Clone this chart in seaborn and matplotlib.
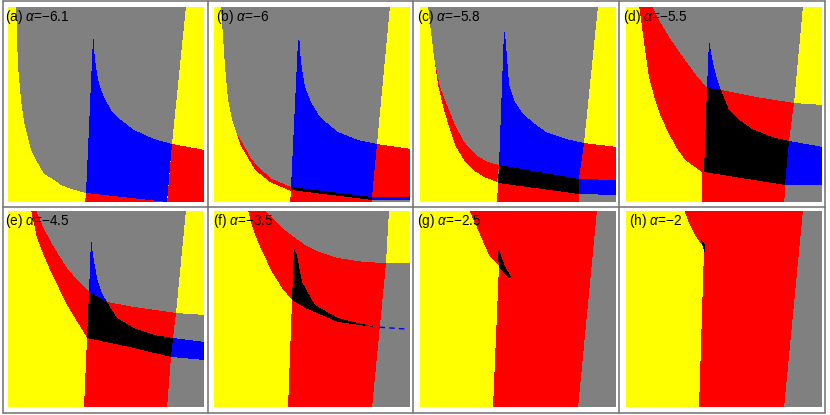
import numpy as np
import matplotlib
matplotlib.use("Agg")
import matplotlib.pyplot as plt
import seaborn as sns
from matplotlib.colors import ListedColormap
from matplotlib.path import Path
from matplotlib.lines import Line2D

# panel parameters
letters = ["a", "b", "c", "d", "e", "f", "g", "h"]
alphas = [-6.1, -6, -5.8, -5.5, -4.5, -3.5, -2.5, -2]

# region outlines in image pixels (x right, y down), painted in order over yellow
regions_a = [
    ("gray", [(8, -1), (9, 30), (10, 60), (13, 93), (16, 115), (19, 127), (23, 143), (28, 153),
              (36, 167), (46, 173), (53, 178), (63, 182), (78, 186),
              (159, 195), (164, 137), (178, -1)]),
    ("blue", [(85, 31), (78, 186), (159, 195), (164, 137), (146, 132), (126, 123), (113, 113),
              (103, 103), (96, 90), (91, 77), (88, 60), (86, 43), (86, 32)]),
    ("red", [(164, 137), (197, 143), (197, 197), (159, 197)]),
    ("red", [(78, 186), (159, 195), (159, 197), (77, 197)]),
]
regions_b = [
    ("gray", [(7, -1), (9, 30), (11, 60), (14, 93), (18, 112), (22, 125), (29, 137), (36, 150),
              (44, 160), (50, 166), (58, 172), (66, 176), (77, 180),
              (158, 190), (163, 137), (176, -1)]),
    ("red", [(22, 125), (29, 137), (36, 150), (44, 160), (58, 172), (77, 180), (77, 184),
             (56, 175), (41, 163), (27, 139)]),
    ("blue", [(84, 33), (77, 180), (158, 190), (163, 137), (144, 133), (124, 125), (113, 116),
              (104, 107), (97, 95), (91, 80), (88, 62), (86, 45), (86, 34)]),
    ("black", [(77, 180), (158, 190), (158, 193), (77, 183)]),
    ("red", [(77, 183), (158, 193), (158, 197), (76, 197)]),
    ("red", [(163, 137), (197, 142), (197, 190), (158, 190)]),
    ("blue", [(158, 190), (197, 190), (197, 192.5), (158, 192.5)]),
    ("gray", [(158, 192.5), (197, 192.5), (197, 197), (158, 197)]),
]
regions_c = [
    ("gray", [(8, -1), (11, 25), (14, 50), (18, 78), (24, 103), (29, 120), (36, 140), (44, 153),
              (53, 163), (64, 170), (77, 175), (159, 187), (164, 136), (178, -1)]),
    ("red", [(14, 50), (18, 78), (24, 103), (29, 120), (36, 140), (44, 153), (53, 163), (64, 170),
             (77, 175), (79, 158), (68, 155), (59, 150), (50, 142), (43, 133), (35, 118),
             (29, 103), (20, 80)]),
    ("blue", [(84, 23), (79, 158), (159, 172), (164, 136), (146, 132), (126, 125), (115, 117),
              (103, 107), (95, 95), (89, 77), (87, 50), (85, 26)]),
    ("black", [(79, 158), (159, 172), (159, 187), (78, 176)]),
    ("red", [(78, 176), (159, 187), (159, 197), (77, 197)]),
    ("red", [(164, 136), (197, 140), (197, 173), (159, 172)]),
    ("blue", [(159, 172), (197, 173), (197, 188), (159, 187)]),
    ("gray", [(159, 187), (197, 188), (197, 197), (159, 197)]),
]
regions_d = [
    ("red", [(13, -1), (16, 20), (19, 43), (23, 70), (29, 93), (35, 110), (43, 127), (50, 140),
             (59, 153), (76, 165), (76, 197), (158, 197), (163, 134), (168, 96), (177, -1)]),
    ("gray", [(26, -1), (34, 15), (43, 30), (59, 53), (70, 68), (81, 81), (95, 83), (130, 90),
              (168, 96), (177, -1)]),
    ("blue", [(83, 33), (81, 81), (95, 83), (91, 72), (88, 60), (85, 45)]),
    ("black", [(81, 81), (95, 83), (103, 103), (115, 114), (126, 122), (146, 130), (163, 134),
               (159, 178), (78, 165)]),
    ("gray", [(168, 96), (197, 98), (197, 197), (158, 197), (163, 134)]),
    ("blue", [(163, 134), (197, 140), (197, 178), (159, 178)]),
]
regions_e = [
    ("red", [(23, -1), (26, 13), (29, 27), (36, 45), (43, 61), (59, 94), (70, 112), (79, 127),
             (76, 197), (159, 197), (163, 146), (165, 127), (168, 102), (178, -1)]),
    ("gray", [(28, -1), (35, 16), (43, 31), (50, 43), (59, 57), (70, 70), (81, 81), (99, 91),
              (126, 96), (168, 102), (178, -1)]),
    ("blue", [(83, 27), (81, 81), (99, 91), (94, 82), (89, 67), (85, 44)]),
    ("black", [(81, 81), (99, 91), (109, 107), (126, 117), (146, 124), (165, 127), (163, 146),
               (126, 137), (79, 127)]),
    ("gray", [(168, 102), (197, 104), (197, 197), (159, 197), (163, 146), (165, 127)]),
    ("blue", [(165, 127), (197, 131), (197, 149), (163, 146)]),
]
regions_f = [
    ("red", [(34, -1), (37, 12), (41, 24), (48, 40), (58, 61), (68, 77), (78, 89), (74, 197),
             (158, 197), (172, 52), (175, -1)]),
    ("gray", [(51, -1), (60, 9), (68, 17), (80, 26), (91, 34), (105, 41), (124, 47), (150, 51),
              (172, 52), (175, -1)]),
    ("gray", [(172, 52), (197, 52), (197, 197), (158, 197)]),
    ("black", [(80, 37), (78, 89), (91, 97), (124, 111), (166, 117), (144, 112), (124, 107),
               (101, 94), (88, 71), (83, 44)]),
]
regions_g = [
    ("red", [(49, -1), (54, 10), (59, 21), (64, 33), (69, 44), (74, 50), (79, 54), (73, 197),
             (158, 197), (177, -1)]),
    ("gray", [(177, -1), (197, -1), (197, 197), (158, 197)]),
    ("black", [(79, 36), (81, 45), (85, 55), (91, 66), (89, 67), (83, 61), (79, 56), (78, 45)]),
]
regions_h = [
    ("red", [(58, -1), (63, 12), (69, 24), (73, 30), (76, 34), (78, 39), (73, 197), (158, 197),
             (177, -1)]),
    ("gray", [(177, -1), (197, -1), (197, 197), (158, 197)]),
    ("black", [(76, 29), (78.5, 33), (79.5, 41), (78, 41), (77, 35), (75, 30)]),
]
# thin blue trace in panel (f)
trace_f_x = [166, 195]
trace_f_y = [116.5, 118.5]

panels = [regions_a, regions_b, regions_c, regions_d,
          regions_e, regions_f, regions_g, regions_h]

sns.set_theme(style="white")
plt.rcParams['font.family'] = ['Liberation Sans', 'DejaVu Sans']
plt.rcParams['mathtext.fontset'] = 'custom'
plt.rcParams['mathtext.it'] = 'Liberation Sans:italic'
plt.rcParams['mathtext.rm'] = 'Liberation Sans'

names = ["yellow", "gray", "blue", "red", "black"]
code = {n: i for i, n in enumerate(names)}
cmap = ListedColormap(["#ffff00", "#808080", "#0000ff", "#ff0000", "#000000"])

N = 196
yy, xx = np.mgrid[0:N, 0:N] + 0.5
pts = np.column_stack([xx.ravel(), yy.ravel()])


def rasterize(regions):
    grid = np.zeros(N * N, dtype=int)
    for name, verts in regions:
        grid[Path(verts).contains_points(pts)] = code[name]
    return grid.reshape(N, N)


W, H = 830, 415
fig = plt.figure(figsize=(W / 100, H / 100), dpi=100)

for k, regions in enumerate(panels):
    r, c = divmod(k, 4)
    x0 = 7.5 + 206 * c
    y0 = 7 + 204 * r
    ax = fig.add_axes([x0 / W, 1 - (y0 + 195.5) / H, 196 / W, 195.5 / H])
    sns.heatmap(rasterize(regions), ax=ax, cmap=cmap, vmin=-0.5, vmax=4.5, cbar=False,
                xticklabels=False, yticklabels=False, rasterized=True)
    if k == 5:
        ax.plot(trace_f_x, trace_f_y, color="blue", lw=1, dashes=(4, 3))
    ax.set_axis_off()
    lab = f"{alphas[k]:g}".replace("-", "\u2212")
    fig.text((x0 + 29.5) / W, 1 - (y0 + 9.5) / H, f"({letters[k]}) $\\alpha$={lab}",
             ha="center", va="center", fontsize=9.8, color="black")

# panel frame grid
for xv in [2.5, 207.5, 413, 619, 825]:
    fig.add_artist(Line2D([xv / W] * 2, [1 - 1.5 / H, 1 - 413 / H], color="#707070", lw=1.1))
for yv in [1.5, 207, 413]:
    fig.add_artist(Line2D([2.5 / W, 825 / W], [1 - yv / H] * 2, color="#707070", lw=1.1))

fig.savefig("out.png", dpi=100)
